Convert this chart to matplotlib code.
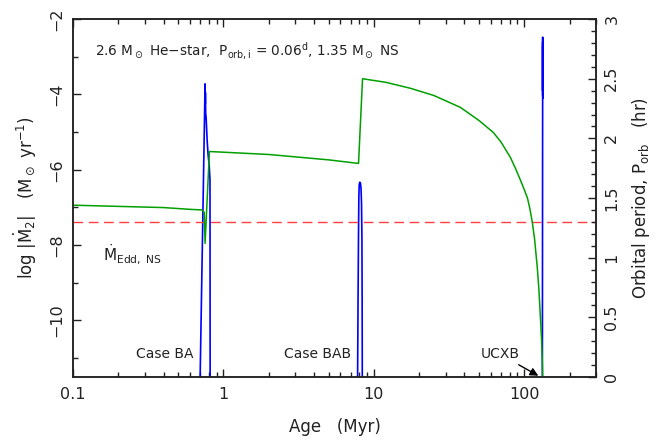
import matplotlib
matplotlib.use("Agg")
import matplotlib.pyplot as plt
from matplotlib.ticker import MultipleLocator, LogLocator, FixedLocator, FixedFormatter, FuncFormatter

plt.rcParams['font.family'] = ['DejaVu Sans']
plt.rcParams['mathtext.default'] = 'regular'

# orbital period (hr) vs age (Myr)
period_age = [0.1, 0.2, 0.4, 0.6, 0.72, 0.745, 0.755, 0.807, 2.0, 5.0, 7.91, 8.41,
              12, 17.5, 25, 37.6, 50, 62.2, 70, 80.9, 88, 95, 100, 105, 109, 113, 117,
              122, 125, 128, 130.5, 132.0, 132.5]
period_hr = [1.44, 1.43, 1.42, 1.405, 1.40, 1.38, 1.12, 1.89, 1.865, 1.82, 1.79, 2.50,
             2.47, 2.42, 2.36, 2.26, 2.15, 2.05, 1.97, 1.84, 1.74, 1.64, 1.57, 1.50, 1.41,
             1.30, 1.16, 0.92, 0.74, 0.50, 0.30, 0.10, 0.0]

# mass-transfer episodes, log |Mdot2| (Msun/yr)
ba_age = [0.698, 0.755, 0.757, 0.759, 0.762, 0.767, 0.779, 0.791, 0.804, 0.814, 0.816]
ba_mdot = [-11.8, -3.72, -4.25, -3.95, -4.5, -4.6, -5.21, -5.61, -5.87, -6.27, -11.8]

bab_age = [7.79, 7.85, 7.91, 7.95, 7.99, 8.06, 8.14, 8.22, 8.28, 8.33, 8.36, 8.38]
bab_mdot = [-11.8, -9.5, -7.6, -6.7, -6.4, -6.33, -6.35, -6.5, -6.9, -7.8, -9.5, -11.8]

ucxb_age = [131.9, 132.2, 132.4, 132.5, 132.55, 132.6, 132.65, 132.7, 132.75, 132.8, 132.85, 132.9]
ucxb_mdot = [-11.8, -8.0, -5.0, -4.0, -2.48, -3.9, -2.6, -4.05, -2.7, -4.0, -2.55, -4.1]

mdot_edd = -7.38

ink = '#222222'

fig = plt.figure(figsize=(6.65, 4.44), dpi=100)
ax = fig.add_axes([0.1098, 0.151, 0.7865, 0.806])
ax2 = ax.twinx()

ax.plot(ba_age, ba_mdot, color='#0000ff', lw=1.2)
ax.plot(bab_age, bab_mdot, color='#0000ff', lw=1.2)
ax.plot(ucxb_age, ucxb_mdot, color='#0000ff', lw=1.2)
ax.axhline(mdot_edd, color='#ff4040', lw=1.0, dashes=(7, 4))

ax2.plot(period_age, period_hr, color='#00a000', lw=1.1)

ax.set_xscale('log')
ax.set_xlim(0.1, 300)
ax.set_ylim(-11.5, -2)
ax2.set_ylim(0, 3)

ax.xaxis.set_major_locator(FixedLocator([0.1, 1, 10, 100]))
ax.xaxis.set_major_formatter(FixedFormatter(['0.1', '1', '10', '100']))
ax.xaxis.set_minor_locator(LogLocator(base=10, subs=range(2, 10)))
ax.xaxis.set_minor_formatter(plt.NullFormatter())
ax.yaxis.set_major_locator(MultipleLocator(2))
ax.yaxis.set_minor_locator(MultipleLocator(1))
ax.yaxis.set_major_formatter(FuncFormatter(lambda v, p: f'{v:g}'.replace('-', '\u2212')))
ax2.yaxis.set_major_locator(MultipleLocator(0.5))
ax2.yaxis.set_minor_locator(MultipleLocator(0.1))
ax2.yaxis.set_major_formatter(FuncFormatter(lambda v, p: f'{v:g}'))

ax.tick_params(axis='x', which='both', direction='in', top=True, colors=ink, labelsize=11.5, pad=7)
ax.tick_params(axis='x', which='major', length=6, width=1)
ax.tick_params(axis='x', which='minor', length=3.5, width=1)
ax.tick_params(axis='y', which='both', direction='in', colors=ink, labelsize=11.5, pad=6,
               labelrotation=90)
ax.tick_params(axis='y', which='major', length=6, width=1)
ax.tick_params(axis='y', which='minor', length=3.5, width=1)
ax2.tick_params(axis='y', which='both', direction='in', colors=ink, labelsize=11.5, pad=6,
                labelrotation=90)
ax2.tick_params(axis='y', which='major', length=6, width=1)
ax2.tick_params(axis='y', which='minor', length=3.5, width=1)
for lab in ax.get_yticklabels():
    lab.set_va('center')
for lab in ax2.get_yticklabels():
    lab.set_va('center')

for a in (ax, ax2):
    for s in a.spines.values():
        s.set_color(ink)
        s.set_linewidth(1.1)

ax.set_xlabel('Age   (Myr)', fontsize=12, color=ink, labelpad=12)
ax.set_ylabel(r'log $|\dot{M}_2|$   (M$_\odot$ yr$^{-1}$)', fontsize=12, color=ink, labelpad=8)
ax2.set_ylabel(r'Orbital period, P$_{orb}$   (hr)', fontsize=12, color=ink, labelpad=8)

ax.text(0.042, 0.913,
        r'2.6 M$_\odot$ He$-$star,  P$_{orb,i}$ = 0.06$^d$, 1.35 M$_\odot$ NS',
        transform=ax.transAxes, fontsize=9.8, color=ink, va='center', ha='left')
ax.text(0.158, -8.26, r'$\dot{M}_{Edd,\ NS}$', fontsize=11, color=ink, va='center', ha='left')

ax2.text(0.63, 0.19, 'Case BA', fontsize=10, color=ink, ha='right', va='center')
ax2.text(7.1, 0.19, 'Case BAB', fontsize=10, color=ink, ha='right', va='center')
ax2.annotate('UCXB', xy=(124, 0.01), xytext=(93, 0.19), fontsize=10, color=ink,
             ha='right', va='center',
             arrowprops=dict(arrowstyle='-|>', color='k', lw=1, mutation_scale=12,
                             shrinkA=1, shrinkB=0))

fig.savefig('out.png', dpi=100)
